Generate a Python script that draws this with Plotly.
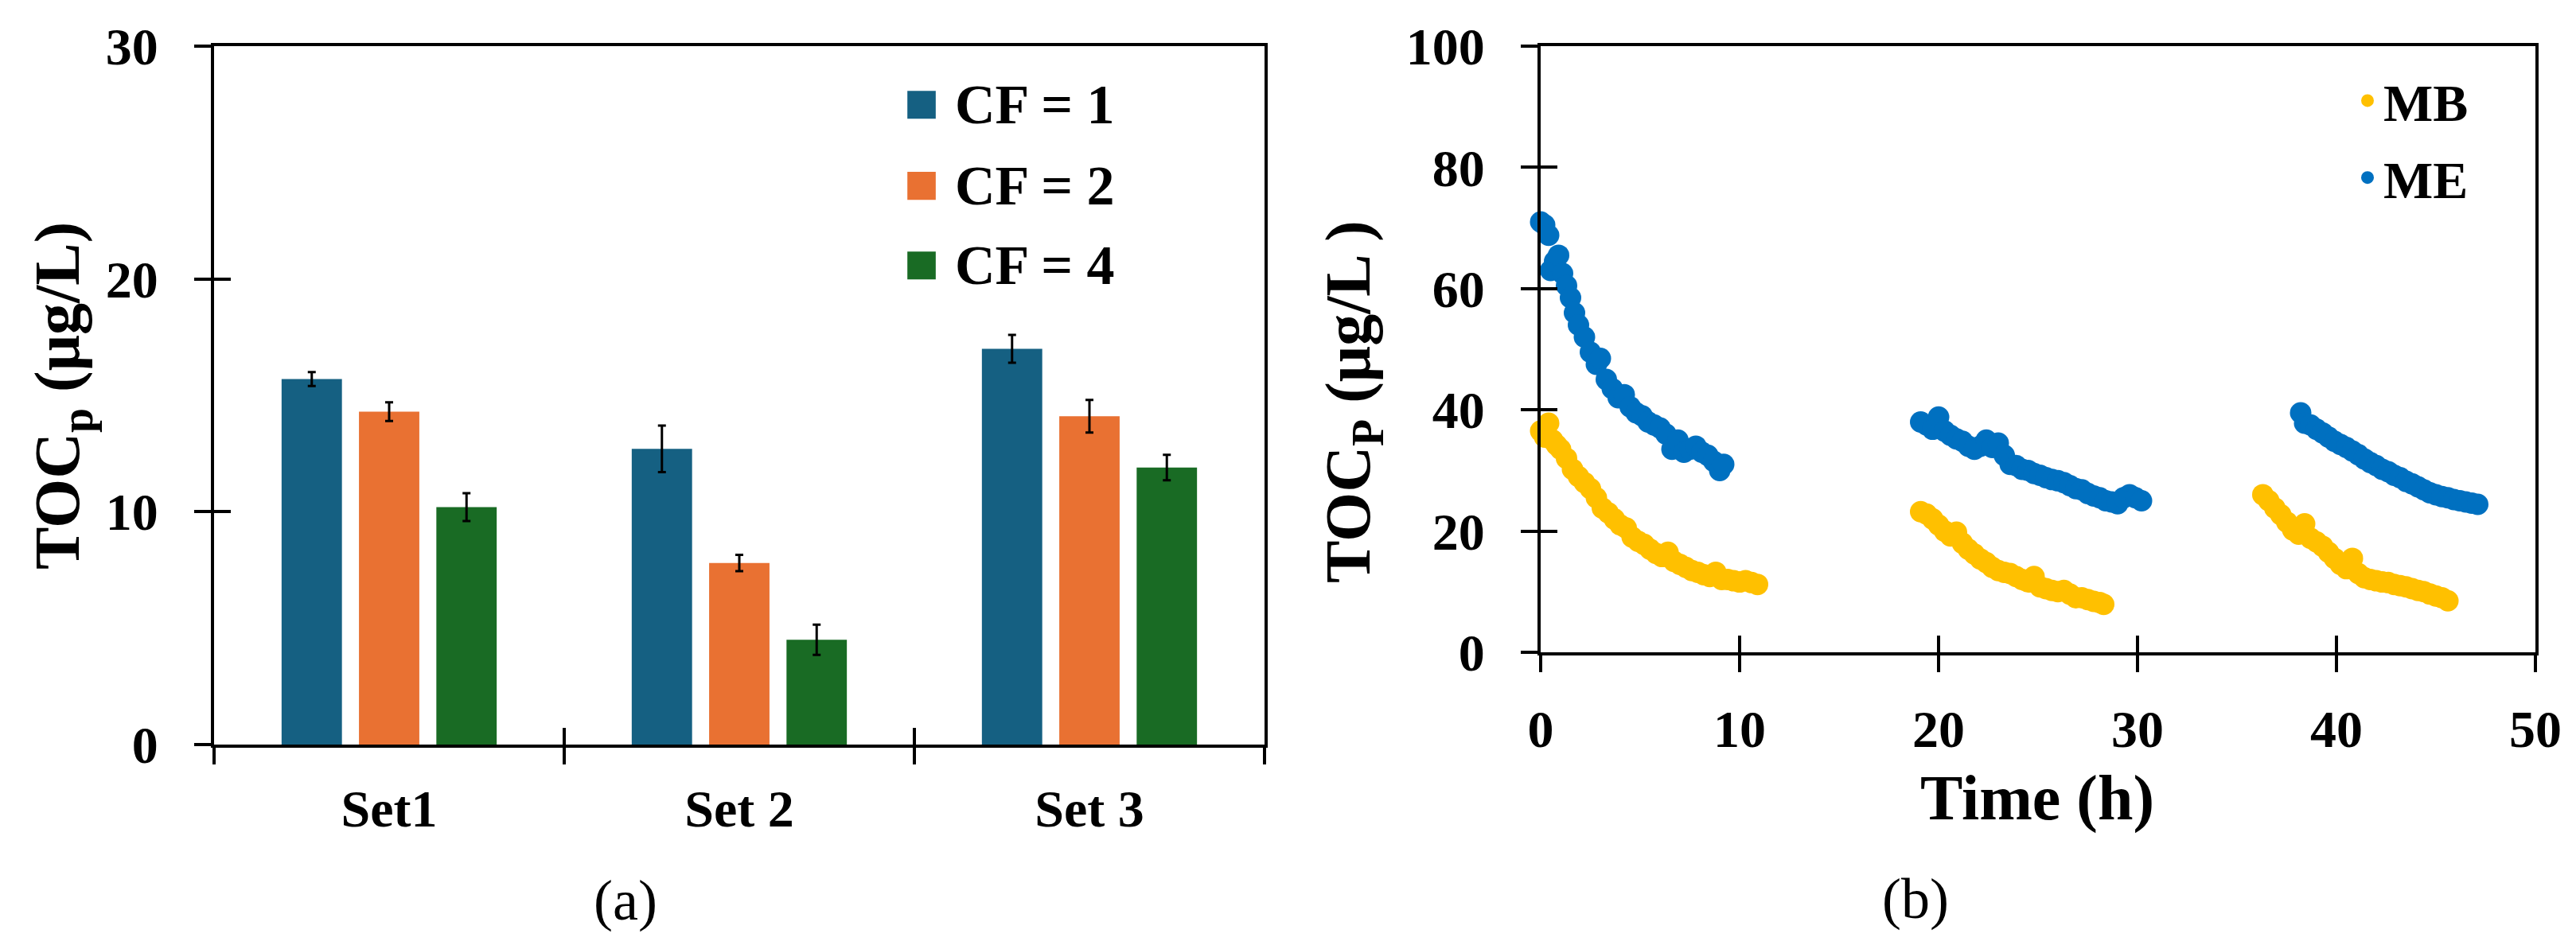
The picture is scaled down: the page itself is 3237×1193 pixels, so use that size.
import plotly.graph_objects as go

# ---- panel (a): bar data ----
sets = ["Set1", "Set 2", "Set 3"]
cf_names = ["CF = 1", "CF = 2", "CF = 4"]
cf_colors = ["#156082", "#E97132", "#196B24"]
toc_cf1 = [15.7, 12.7, 17.0]
toc_cf2 = [14.3, 7.8, 14.1]
toc_cf4 = [10.2, 4.5, 11.9]
err_cf1 = [0.3, 1.0, 0.6]
err_cf2 = [0.4, 0.35, 0.7]
err_cf4 = [0.6, 0.65, 0.55]

# ---- panel (b): TOCp over time, three runs per membrane ----
me_t1 = [0.0, 0.2, 0.4, 0.5, 0.7, 0.9, 1.1, 1.3, 1.5, 1.7, 1.9, 2.2, 2.5, 2.8, 3.0, 3.3, 3.6, 3.9,
         4.2, 4.5, 4.8, 5.1, 5.4, 5.7, 6.0, 6.3, 6.6, 6.9, 7.2, 7.5, 7.8, 8.1, 8.4, 8.7, 9.0, 9.2]
me_v1 = [71.0, 70.5, 68.8, 63.0, 64.5, 65.5, 62.5, 60.5, 58.5, 56.0, 54.0, 52.0, 49.5, 47.5, 48.5, 45.0, 43.5, 42.0,
         42.5, 40.5, 39.5, 39.0, 38.0, 37.5, 37.0, 36.0, 33.5, 35.0, 33.0, 33.5, 34.0, 33.0, 32.5, 31.5, 30.0, 31.0]
me_t2 = [19.1, 19.4, 19.7, 20.0, 20.3, 20.6, 20.9, 21.2, 21.5, 21.8, 22.1, 22.4, 22.7, 23.0, 23.3, 23.6, 23.9, 24.2, 24.5,
         24.8, 25.1, 25.4, 25.7, 26.0, 26.3, 26.6, 26.9, 27.2, 27.5, 27.8, 28.1, 28.4, 28.7, 29.0, 29.3, 29.6, 29.9, 30.2]
me_v2 = [38.0, 37.5, 36.8, 38.8, 36.5, 35.8, 35.2, 34.8, 34.0, 33.5, 34.0, 35.0, 33.8, 34.5, 32.5, 31.0, 30.8, 30.2, 30.0,
         29.5, 29.2, 28.8, 28.5, 28.3, 28.0, 27.5, 27.0, 26.8, 26.2, 25.8, 25.5, 25.0, 24.8, 24.5, 25.5, 26.0, 25.5, 25.0]
me_t3 = [38.2, 38.4, 38.7, 39.0, 39.3, 39.6, 39.9, 40.2, 40.5, 40.8, 41.1, 41.4, 41.7, 42.0, 42.3, 42.6,
         42.9, 43.2, 43.5, 43.8, 44.1, 44.4, 44.7, 45.0, 45.3, 45.6, 45.9, 46.2, 46.5, 46.8, 47.1]
me_v3 = [39.5, 37.8, 37.5, 36.8, 36.2, 35.5, 34.8, 34.3, 33.8, 33.2, 32.6, 31.9, 31.3, 30.8, 30.2, 29.8,
         29.2, 28.8, 28.2, 27.8, 27.3, 26.8, 26.3, 26.0, 25.7, 25.5, 25.2, 25.0, 24.8, 24.6, 24.4]

mb_t1 = [0.0, 0.2, 0.4, 0.6, 0.8, 1.0, 1.3, 1.6, 1.9, 2.2, 2.5, 2.8, 3.1, 3.4, 3.7, 4.0, 4.3, 4.6, 4.9, 5.2,
         5.5, 5.8, 6.1, 6.4, 6.7, 7.0, 7.3, 7.6, 7.9, 8.2, 8.5, 8.8, 9.1, 9.4, 9.7, 10.0, 10.3, 10.6, 10.9]
mb_v1 = [36.5, 35.5, 37.8, 35.0, 34.2, 33.5, 32.0, 30.2, 29.0, 28.0, 27.0, 25.5, 23.8, 23.0, 22.0, 21.0, 20.5, 19.0, 18.3, 17.8,
         17.0, 16.3, 15.8, 16.5, 15.0, 14.5, 14.0, 13.5, 13.2, 12.8, 12.5, 13.2, 12.0, 12.0, 11.8, 11.6, 11.8, 11.5, 11.2]
mb_t2 = [19.1, 19.4, 19.7, 20.0, 20.3, 20.6, 20.9, 21.2, 21.5, 21.8, 22.1, 22.4, 22.7, 23.0, 23.3, 23.6,
         23.9, 24.2, 24.5, 24.8, 25.1, 25.4, 25.7, 26.0, 26.3, 26.6, 26.9, 27.2, 27.5, 27.8, 28.1, 28.3]
mb_v2 = [23.2, 22.8, 22.0, 21.0, 20.0, 19.2, 19.8, 18.0, 17.0, 16.2, 15.4, 14.8, 14.0, 13.5, 13.2, 13.0,
         12.5, 12.0, 11.6, 12.5, 10.8, 10.5, 10.2, 10.0, 10.2, 9.6, 9.0, 9.0, 8.7, 8.4, 8.2, 7.9]
mb_t3 = [36.3, 36.6, 36.9, 37.2, 37.5, 37.8, 38.1, 38.4, 38.7, 39.0, 39.3, 39.6, 39.9, 40.2, 40.5, 40.8,
         41.1, 41.4, 41.7, 42.0, 42.3, 42.6, 42.9, 43.2, 43.5, 43.8, 44.1, 44.4, 44.7, 45.0, 45.3, 45.6]
mb_v3 = [26.0, 25.0, 23.8, 22.7, 21.5, 20.2, 19.5, 21.2, 18.8, 18.2, 17.5, 16.5, 15.5, 14.5, 13.8, 15.5,
         13.0, 12.3, 12.0, 11.8, 11.6, 11.5, 11.2, 11.0, 10.8, 10.5, 10.2, 10.0, 9.6, 9.3, 9.0, 8.5]

FONT = "Liberation Serif"
W, H = 3237, 1193
OFF = 8  # page body margin, figure starts 8px in


def px(x):
    # window pixel -> paper x
    return (x - OFF) / (W - OFF)


def py(y):
    # window pixel (from top) -> paper y
    return 1 - (y - OFF) / (H - OFF)


fig = go.Figure()

# bars with error bars
for name, vals, errs, col in zip(cf_names, [toc_cf1, toc_cf2, toc_cf4],
                                 [err_cf1, err_cf2, err_cf4], cf_colors):
    fig.add_trace(go.Bar(
        x=sets, y=vals, name=name, marker=dict(color=col, line=dict(width=0)),
        error_y=dict(type="data", array=errs, color="black", thickness=3, width=5),
        showlegend=False, xaxis="x", yaxis="y"
    ))

# scatter
fig.add_trace(go.Scatter(
    x=mb_t1 + mb_t2 + mb_t3, y=mb_v1 + mb_v2 + mb_v3, mode="markers", name="MB", legendgroup="mb",
    marker=dict(color="#FFC000", size=27), cliponaxis=False, xaxis="x2", yaxis="y2"
))
fig.add_trace(go.Scatter(
    x=me_t1 + me_t2 + me_t3, y=me_v1 + me_v2 + me_v3, mode="markers", name="ME", legendgroup="me",
    marker=dict(color="#0070C0", size=27), cliponaxis=False, xaxis="x2", yaxis="y2"
))

# empty traces so the overlay axes (inner half of the crossing ticks) get drawn
fig.add_trace(go.Scatter(x=[None], y=[None], xaxis="x3", yaxis="y3", showlegend=False, hoverinfo="skip"))
fig.add_trace(go.Scatter(x=[None], y=[None], xaxis="x4", yaxis="y4", showlegend=False, hoverinfo="skip"))

tickfont = dict(family=FONT, size=66, color="black", weight="bold")
axis_common = dict(showline=True, linecolor="black", linewidth=4, mirror=True, showgrid=False,
                   zeroline=False, ticks="outside", ticklen=21, tickwidth=4, tickcolor="black",
                   tickfont=tickfont, automargin=False)
cross = dict(showline=False, showgrid=False, zeroline=False, ticks="inside", ticklen=21,
             tickwidth=4, tickcolor="black", showticklabels=False, automargin=False)

left_x = [px(269), px(1589)]
right_x = [px(1936), px(3186)]
left_y = [py(936), py(58)]
right_y = [py(820), py(58)]

fig.update_layout(
    template="none",
    width=W - OFF, height=H - OFF,
    margin=dict(l=0, r=0, t=0, b=0),
    paper_bgcolor="white", plot_bgcolor="white",
    barmode="group", bargap=0.337, bargroupgap=0.22,
    xaxis=dict(axis_common, domain=left_x, anchor="y", type="category",
               tickson="boundaries", ticklabelstandoff=20),
    yaxis=dict(axis_common, domain=left_y, anchor="x", range=[0, 30], dtick=10,
               ticklabelstandoff=32),
    xaxis3=dict(cross, overlaying="x", anchor="y3", range=[-0.5, 2.5],
                tickmode="array", tickvals=[-0.5, 0.5, 1.5, 2.5]),
    yaxis3=dict(cross, overlaying="y", anchor="x3", range=[0, 30], dtick=10),
    xaxis2=dict(axis_common, domain=right_x, anchor="y2", range=[0, 50], dtick=10,
                ticklabelstandoff=15),
    yaxis2=dict(axis_common, domain=right_y, anchor="x2", range=[0, 100], dtick=20,
                ticklabelstandoff=32),
    xaxis4=dict(cross, overlaying="x2", anchor="y4", range=[0, 50], dtick=10),
    yaxis4=dict(cross, overlaying="y2", anchor="x4", range=[0, 100], dtick=20),
    legend=dict(x=px(2955), y=py(77), xanchor="left", yanchor="top",
                bgcolor="rgba(0,0,0,0)", borderwidth=0, tracegroupgap=8,
                font=dict(family=FONT, size=66, color="black", weight="bold")),
)

# custom legend for the bars (big square swatches)
row_y = [0.916, 0.800, 0.686]
for name, col, yc in zip(cf_names, cf_colors, row_y):
    fig.add_shape(type="rect", xref="x domain", yref="y domain",
                  x0=0.660, x1=0.687, y0=yc - 0.02, y1=yc + 0.02,
                  fillcolor=col, line=dict(width=0))
    fig.add_annotation(text=name, xref="x domain", yref="y domain", x=0.704, y=yc,
                       xanchor="left", yanchor="middle", showarrow=False,
                       font=dict(family=FONT, size=70, color="black", weight="bold"))

title_font = dict(family=FONT, size=80, color="black", weight="bold")
fig.add_annotation(text="TOC<sub>p</sub> (μg/L)", x=px(78), y=py(498), xref="paper", yref="paper",
                   textangle=-90, showarrow=False, xanchor="center", yanchor="middle", font=title_font)
fig.add_annotation(text="TOC<sub>P</sub> (μg/L )", x=px(1700), y=py(505), xref="paper", yref="paper",
                   textangle=-90, showarrow=False, xanchor="center", yanchor="middle", font=title_font)
fig.add_annotation(text="Time (h)", x=px(2560), y=py(1003), xref="paper", yref="paper",
                   showarrow=False, xanchor="center", yanchor="middle", font=title_font)

panel_font = dict(family=FONT, size=72, color="black")
fig.add_annotation(text="(a)", x=px(786), y=py(1132), xref="paper", yref="paper",
                   showarrow=False, xanchor="center", yanchor="middle", font=panel_font)
fig.add_annotation(text="(b)", x=px(2407), y=py(1130), xref="paper", yref="paper",
                   showarrow=False, xanchor="center", yanchor="middle", font=panel_font)

fig.write_html("out.html")
